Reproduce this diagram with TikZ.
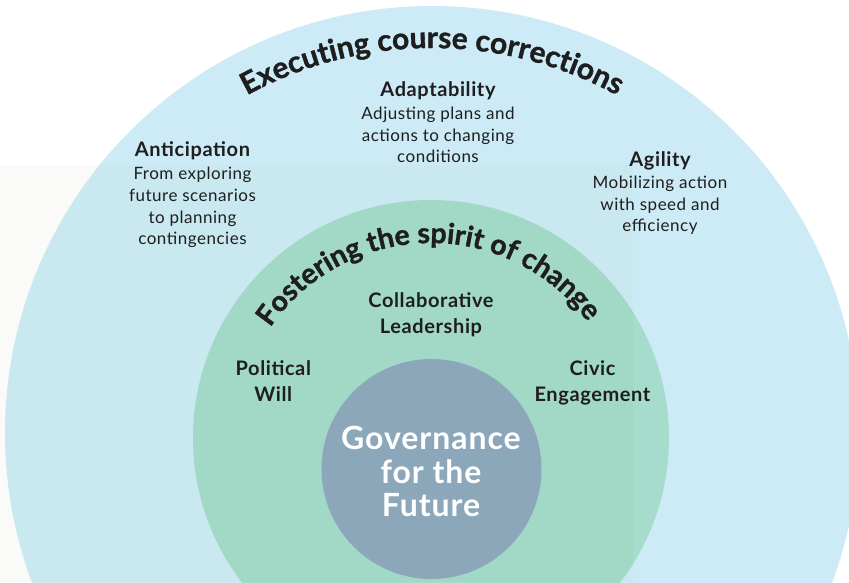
\documentclass[tikz,border=0pt]{standalone}
\usepackage{fontspec}
\setmainfont{Lato}[LetterSpace=3]
\newfontfamily\heavyfont{Lato}[BoldFeatures={FakeBold=1.2}]
\usetikzlibrary{decorations.text}
\definecolor{outerblue}{HTML}{CDEBF6}
\definecolor{innergreen}{HTML}{A5DCCB}
\definecolor{coreblue}{HTML}{8CA7BA}
\definecolor{ink}{HTML}{1E1E1E}
\definecolor{tint}{HTML}{37731F}
\begin{document}
\begin{tikzpicture}[x=1pt,y=1pt,
  ring/.style={draw=none},
  head/.style={anchor=base, inner sep=0pt, text=ink, font=\bfseries\fontsize{20}{22}\selectfont},
  body/.style={anchor=base, inner sep=0pt, align=center, text=ink, font=\fontsize{17}{21.8}\selectfont},
  mid/.style={anchor=base, inner sep=0pt, align=center, text=ink, font=\bfseries\fontsize{20}{26}\selectfont},
  core/.style={anchor=base, inner sep=0pt, align=center, text=white, font=\bfseries\fontsize{32}{33.5}\selectfont}]
\useasboundingbox (0,0) rectangle (849,582);
\fill[white] (0,0) rectangle (849,582);
% rings
\fill[outerblue] (432,149) circle[radius=427];
\fill[innergreen] (431,144) circle[radius=238];
\fill[tint, fill opacity=0.025] (0,0) rectangle (633,417);
\node[ring, circle, fill=coreblue, minimum size=220pt, inner sep=0pt] (corec) at (431.5,113) {};
% curved titles
\path[decorate, decoration={text along path, text align=center,
  text={|\color{ink}\heavyfont\bfseries\fontsize{30}{30}\selectfont|Executing course corrections}}]
  (432,149) ++(122:385) arc[start angle=122, end angle=58, radius=385];
\path[decorate, decoration={text along path, text align=center,
  text={|\color{ink}\heavyfont\bfseries\fontsize{28.5}{28.5}\selectfont|Fostering the spirit of change}}]
  (431,144) ++(152:195) arc[start angle=152, end angle=30, radius=195];
% outer ring items
\node[head] (antT) at (192.5,425) {Anticipation};
\node[body] (antB) at (192.5,337) {From exploring\\future scenarios\\to planning\\contingencies};
\node[head] (adaT) at (438,485) {Adaptability};
\node[body] (adaB) at (438,419) {Adjusting plans and\\actions to changing\\conditions};
\node[head] (agiT) at (660,415.5) {Agility};
\node[body] (agiB) at (660,350) {Mobilizing action\\with speed and\\efficiency};
% inner ring items
\node[mid] (collab) at (431,248.7) {Collaborative\\Leadership};
\node[mid] (polit) at (273.3,180.5) {Political\\Will};
\node[mid] (civic) at (592.5,181) {Civic\\Engagement};
% core
\node[core] (gov) at (431,65.3) {Governance\\for the\\Future};
\end{tikzpicture}
\end{document}
